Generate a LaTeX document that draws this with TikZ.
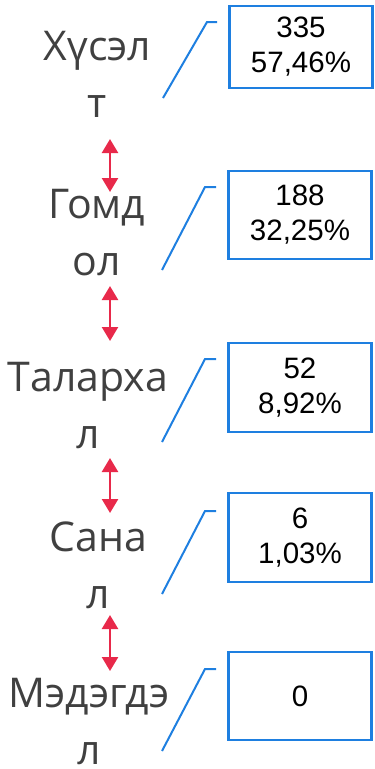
\documentclass[tikz,border=0pt]{standalone}
\usepackage{fontspec}
\setmainfont{Liberation Sans}
\newfontfamily\lblfont{Open Sans}
\usetikzlibrary{positioning,arrows.meta,calc}
\definecolor{lblgray}{RGB}{64,64,64}
\definecolor{boxblue}{RGB}{30,127,224}
\definecolor{arrred}{RGB}{232,41,74}
\tikzset{
  lbl/.style={text=lblgray, align=center, inner sep=0pt, anchor=base, font=\lblfont\fontsize{41}{57}\selectfont},
  val/.style={draw=boxblue, line width=2.8pt, align=center, inner sep=0pt, minimum width=143pt, font=\fontsize{29.5}{35}\selectfont},
  ld/.style={draw=boxblue, line width=2pt},
  dbl/.style={{Triangle[length=14pt, width=16pt]}-{Triangle[length=14pt, width=16pt]}, arrred, line width=2.5pt},
}
\begin{document}
\begin{tikzpicture}[x=1pt, y=-1pt]
\useasboundingbox (0,0) rectangle (375,769);
% labels (anchored on the last line)
\node[lbl] (l1) at (97.5,117) {Хүсэл\\т};
\node[lbl] (l2) at (97,275) {Гомд\\ол};
\node[lbl] (l3) at (88,448) {Таларха\\л};
\node[lbl] (l4) at (98.5,608) {Сана\\л};
\node[lbl, text depth=0pt] (l5) at (89,764) {Мэдэгдэ\\л};
% value boxes
\node[val, minimum height=82pt] (v1) at (301,47) {335\\57,46\%};
\node[val, minimum height=88pt] (v2) at (300,215) {188\\32,25\%};
\node[val, minimum height=89pt] (v3) at (300,387.5) {52\\8,92\%};
\node[val, minimum height=89pt] (v4) at (300,537.5) {6\\1,03\%};
\node[val, minimum height=88pt] (v5) at (300,696) {0};
% leader lines
\coordinate (p1) at (163,98);  \coordinate (q1) at (207,22);
\coordinate (p2) at (162,270); \coordinate (q2) at (205,187);
\coordinate (p3) at (162,442); \coordinate (q3) at (205,359);
\coordinate (p4) at (162,594); \coordinate (q4) at (205,511);
\coordinate (p5) at (162,751); \coordinate (q5) at (205,669);
\foreach \i in {1,...,5}
  \draw[ld] (p\i) -- (q\i) -- ($(v\i.west |- q\i)+(-11,0)$);
% red arrows
\coordinate (a1) at (110,139); \coordinate (b1) at (110,192);
\coordinate (a2) at (110,286); \coordinate (b2) at (110,341);
\coordinate (a3) at (110,458); \coordinate (b3) at (110,513);
\coordinate (a4) at (110,615); \coordinate (b4) at (110,671);
\foreach \i in {1,...,4}
  \draw[dbl] (a\i) -- (b\i);
\end{tikzpicture}
\end{document}
